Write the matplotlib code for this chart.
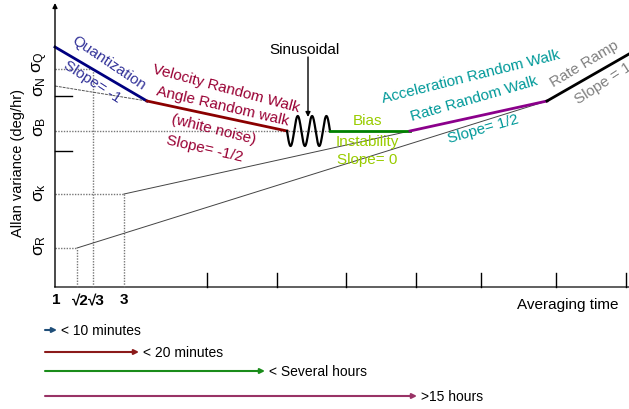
import numpy as np
import matplotlib
matplotlib.use('Agg')
import matplotlib.pyplot as plt

plt.rcParams['font.family'] = ['Liberation Sans', 'DejaVu Sans']
plt.rcParams['mathtext.fontset'] = 'custom'
plt.rcParams['mathtext.rm'] = 'Liberation Sans'
plt.rcParams['mathtext.it'] = 'Liberation Sans'

# schematic units: x = averaging time (log), y = allan variance (log)
SEG_QUANT_X = [0, 92]
SEG_QUANT_Y = [240, 186]
SEG_VRW_X = [92, 232]
SEG_VRW_Y = [186, 156]
SINE_START = 232
SINE_END = 275
SINE_LEVEL = 156
SINE_AMP = 15
SINE_CYCLES = 3
SEG_BIAS_X = [275, 355]
SEG_BIAS_Y = [156, 156]
SEG_RRW_X = [355, 492]
SEG_RRW_Y = [156, 186]
SEG_RAMP_X = [492, 574]
SEG_RAMP_Y = [186, 233]

# reference levels on the y axis
SIGMA_NAMES = ['Q', 'N', 'B', 'k', 'R']
SIGMA_LEVELS = [218, 201, 156, 93, 39]
SIGMA_LABEL_Y = [226, 201, 161, 95, 42]
# special tau values on the x axis
TAU_LABELS = ['1', '\u221a2', '\u221a3', '3']
TAU_POS = [0, 22, 38, 69]
TAU_LABEL_X = [1, 25, 41, 69]
X_TICKS = [152, 222, 291, 361, 426, 501, 571]
Y_TICKS = [191, 136]

# legend: how far each noise term shows up
LEGEND_TEXT = ['< 10 minutes', '< 20 minutes', '< Several hours', '>15 hours']
LEGEND_END = [2, 84, 210, 362]
LEGEND_Y = [-43, -65, -84, -109]
LEGEND_COLORS = ['#1f4e79', '#8b1a1a', '#1a8c1a', '#993366']

DOT = (0, (1, 1))
GRAY = '#777777'


def main():
    fig = plt.figure(figsize=(6.29, 4.10), dpi=100)
    ax = fig.add_axes([0, 0, 1, 1])
    ax.set_xlim(-55, 574)
    ax.set_ylim(-122, 288)
    ax.axis('off')

    # axes
    ax.plot([0, 574], [0, 0], color='#444444', lw=1.2)
    ax.annotate('', xy=(0, 284), xytext=(0, 0),
                arrowprops=dict(arrowstyle='-|>', color='black', lw=1.0,
                                mutation_scale=7, shrinkA=0, shrinkB=0))
    for xt in X_TICKS:
        ax.plot([xt, xt], [0, 14], color='black', lw=1.0)
    for yt in Y_TICKS:
        ax.plot([0, 17], [yt, yt], color='black', lw=1.0)

    # dotted guides
    q, n, b, k, r = SIGMA_LEVELS
    ax.plot([0, TAU_POS[2]], [q, q], color=GRAY, lw=1, ls=DOT)
    ax.plot([TAU_POS[2], TAU_POS[2]], [0, q], color=GRAY, lw=1, ls=DOT)
    ax.plot([0, SINE_END], [b, b], color=GRAY, lw=1, ls=DOT)
    ax.plot([0, TAU_POS[3]], [k, k], color=GRAY, lw=1, ls=DOT)
    ax.plot([TAU_POS[3], TAU_POS[3]], [0, k], color=GRAY, lw=1, ls=DOT)
    ax.plot([0, TAU_POS[1]], [r, r], color=GRAY, lw=1, ls=DOT)
    ax.plot([TAU_POS[1], TAU_POS[1]], [0, r], color=GRAY, lw=1, ls=DOT)

    # thin extension lines
    ax.plot([0, SEG_VRW_X[0]], [n, SEG_VRW_Y[0]], color='#555555', lw=0.7, ls=(0, (3, 1)))
    ax.plot([TAU_POS[3], SEG_RRW_X[0]], [k, SEG_RRW_Y[0]], color='#444444', lw=0.7)
    ax.plot([TAU_POS[1], SEG_RRW_X[1]], [r, SEG_RRW_Y[1]], color='#444444', lw=0.7)

    # noise terms
    ax.plot(SEG_QUANT_X, SEG_QUANT_Y, color='#000080', lw=2)
    ax.plot(SEG_VRW_X, SEG_VRW_Y, color='#8b0000', lw=2)
    t = np.linspace(0, 1, 200)
    ax.plot(SINE_START + t * (SINE_END - SINE_START),
            SINE_LEVEL - SINE_AMP * np.sin(2 * np.pi * SINE_CYCLES * t),
            color='black', lw=1.6)
    ax.plot(SEG_BIAS_X, SEG_BIAS_Y, color='#008000', lw=2)
    ax.plot(SEG_RRW_X, SEG_RRW_Y, color='#8b008b', lw=2)
    ax.plot(SEG_RAMP_X, SEG_RAMP_Y, color='black', lw=2)

    # labels on the curve
    fs = 11
    ax.text(54, 225, 'Quantization', color='#333399', fontsize=fs, rotation=-34,
            ha='center', va='center')
    ax.text(37, 206, 'Slope= -1', color='#333399', fontsize=fs, rotation=-33,
            ha='center', va='center')
    red = '#990033'
    ax.text(171, 199, 'Velocity Random Walk', color=red, fontsize=fs, rotation=-15,
            ha='center', va='center')
    ax.text(168, 182, 'Angle Random walk', color=red, fontsize=fs, rotation=-13,
            ha='center', va='center')
    ax.text(159, 158, '(white noise)', color=red, fontsize=fs, rotation=-14,
            ha='center', va='center')
    ax.text(150, 139, 'Slope= -1/2', color=red, fontsize=fs, rotation=-13,
            ha='center', va='center')
    ax.text(249, 238, 'Sinusoidal', color='black', fontsize=fs, ha='center', va='center')
    ax.annotate('', xy=(253, 170), xytext=(253, 230),
                arrowprops=dict(arrowstyle='-|>', color='black', lw=1.0,
                                mutation_scale=7, shrinkA=0, shrinkB=0))
    lime = '#99cc00'
    ax.text(312, 167, 'Bias', color=lime, fontsize=fs, ha='center', va='center')
    ax.text(312, 146, 'Instability', color=lime, fontsize=fs, ha='center', va='center')
    ax.text(312, 128, 'Slope= 0', color=lime, fontsize=fs, ha='center', va='center')
    teal = '#009999'
    ax.text(416, 211, 'Acceleration Random Walk', color=teal, fontsize=fs, rotation=14,
            ha='center', va='center')
    ax.text(419, 189, 'Rate Random Walk', color=teal, fontsize=fs, rotation=16,
            ha='center', va='center')
    ax.text(428, 159, 'Slope= 1/2', color=teal, fontsize=fs, rotation=16,
            ha='center', va='center')
    ax.text(529, 224, 'Rate Ramp', color='#808080', fontsize=fs, rotation=31,
            ha='center', va='center')
    ax.text(548, 204, 'Slope = 1', color='#808080', fontsize=fs, rotation=33,
            ha='center', va='center')

    # axis labels
    for name, ly in zip(SIGMA_NAMES, SIGMA_LABEL_Y):
        ax.text(-15, ly, r'$\sigma_{\mathrm{%s}}$' % name, fontsize=12.5, rotation=90,
                ha='center', va='center')
    for lab, lx in zip(TAU_LABELS, TAU_LABEL_X):
        ax.text(lx, -12, lab, fontsize=11, fontweight='bold', ha='center', va='center')
    ax.text(-37, 125, 'Allan variance (deg/hr)', fontsize=10.5, rotation=90,
            ha='center', va='center')
    ax.text(513, -17, 'Averaging time', fontsize=11, ha='center', va='center')

    # legend arrows
    for txt, xe, ly, col in zip(LEGEND_TEXT, LEGEND_END, LEGEND_Y, LEGEND_COLORS):
        ax.annotate('', xy=(xe, ly), xytext=(-10, ly),
                    arrowprops=dict(arrowstyle='-|>', color=col, lw=1.5,
                                    mutation_scale=7, shrinkA=0, shrinkB=0))
        ax.text(xe + 4, ly, txt, fontsize=10, ha='left', va='center')

    fig.savefig('out.png', dpi=100)


if __name__ == '__main__':
    main()
